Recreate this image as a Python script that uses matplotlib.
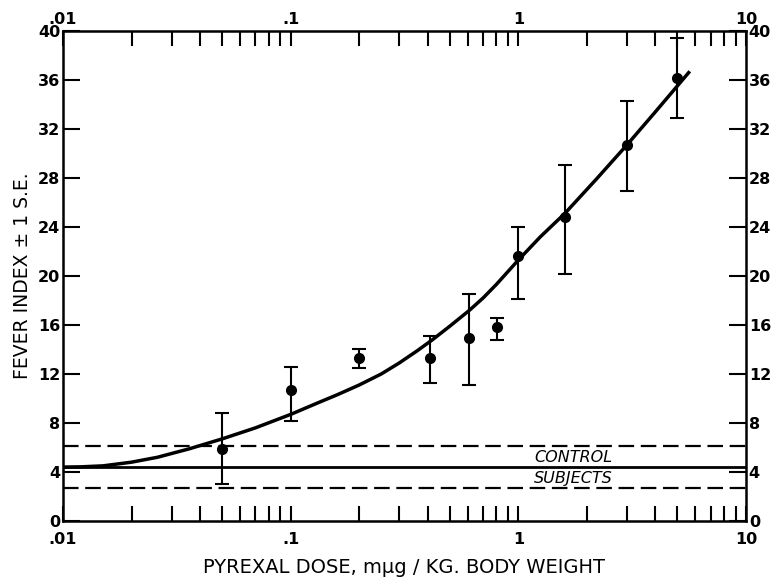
import numpy as np
import matplotlib
matplotlib.use("Agg")
import matplotlib.pyplot as plt
from matplotlib.ticker import LogLocator, FixedLocator, NullFormatter

# dose (m-microgram / kg) and fever index
dose = [0.05, 0.1, 0.2, 0.41, 0.61, 0.81, 1.0, 1.6, 3.0, 5.0]
fever = [5.9, 10.7, 13.3, 13.3, 14.9, 15.8, 21.6, 24.8, 30.7, 36.2]
se_upper = [8.8, 12.6, 14.0, 15.1, 18.5, 16.6, 24.0, 29.1, 34.3, 39.4]
se_lower = [3.0, 8.2, 12.5, 11.3, 11.1, 14.8, 18.1, 20.2, 26.9, 32.9]

# fitted curve, points
curve_dose = [0.01, 0.012, 0.015, 0.02, 0.026, 0.036, 0.05, 0.07, 0.1, 0.13, 0.16, 0.2,
              0.25, 0.3, 0.36, 0.42, 0.5, 0.61, 0.7, 0.8, 1.0, 1.25, 1.6, 2.2, 3.0, 4.0, 5.6]
curve_fever = [4.4, 4.42, 4.5, 4.8, 5.2, 5.9, 6.7, 7.6, 8.7, 9.6, 10.3, 11.1,
               12.0, 12.9, 13.9, 14.8, 15.9, 17.2, 18.2, 19.3, 21.3, 23.2, 25.1, 27.9, 30.7, 33.4, 36.6]

# control subjects: mean and +/- 1 S.E.
control_mean = 4.4
control_hi = 6.1
control_lo = 2.7

decade_labels = [".01", ".1", "1", "10"]
decade_ticks = [0.01, 0.1, 1, 10]
y_ticks = list(range(0, 41, 4))

plt.rcParams['font.family'] = ['DejaVu Sans']

fig = plt.figure(figsize=(7.72, 5.77), dpi=100)
ax = fig.add_axes([0.0816, 0.0971, 0.8847, 0.8492])

ax.set_xscale('log')
ax.set_xlim(0.01, 10)
ax.set_ylim(0, 40)

# control band
ax.axhline(control_mean, color='black', lw=2.0)
ax.axhline(control_hi, color='black', lw=1.6, dashes=(7, 3))
ax.axhline(control_lo, color='black', lw=1.6, dashes=(7, 3))
ax.text(1.75, 5.15, "CONTROL", style='italic', fontsize=11.5, ha='center', va='center')
ax.text(1.75, 3.45, "SUBJECTS", style='italic', fontsize=11.5, ha='center', va='center')

# fitted curve
ax.plot(curve_dose, curve_fever, color='black', lw=2.5, solid_joinstyle='round')

# data points with error bars
yerr = [np.array(fever) - np.array(se_lower), np.array(se_upper) - np.array(fever)]
ax.errorbar(dose, fever, yerr=yerr, fmt='o', color='black', ms=7,
            elinewidth=1.5, capsize=5, capthick=1.5)

for s in ax.spines.values():
    s.set_linewidth(1.8)

# ticks on all four sides, pointing inward
ax.xaxis.set_major_locator(FixedLocator(decade_ticks))
ax.xaxis.set_minor_locator(LogLocator(base=10, subs=np.arange(2, 10)))
ax.xaxis.set_minor_formatter(NullFormatter())
ax.set_xticks(decade_ticks)
ax.set_xticklabels(decade_labels)
ax.set_yticks(y_ticks)
ax.tick_params(axis='both', which='both', direction='in', top=True, right=True,
               labeltop=False, labelright=True, width=1.5, labelsize=11.5)
ax.tick_params(axis='x', which='both', length=11, pad=8)
ax.tick_params(axis='y', which='major', length=12, pad=2)
for lbl in ax.get_xticklabels() + ax.get_yticklabels():
    lbl.set_fontweight('bold')

# decade labels along the top, close to the frame
top = ax.secondary_xaxis('top')
top.set_xticks(decade_ticks)
top.set_xticklabels(decade_labels, fontweight='bold', fontsize=11.5)
top.tick_params(which='both', length=0, pad=3)
top.xaxis.set_minor_locator(FixedLocator([]))
top.spines['top'].set_visible(False)

ax.set_xlabel("PYREXAL DOSE, mμg / KG. BODY WEIGHT", fontsize=14, labelpad=8)
ax.set_ylabel("FEVER INDEX ± 1 S.E.", fontsize=13.5, labelpad=4)

fig.savefig("out.png", dpi=100)
